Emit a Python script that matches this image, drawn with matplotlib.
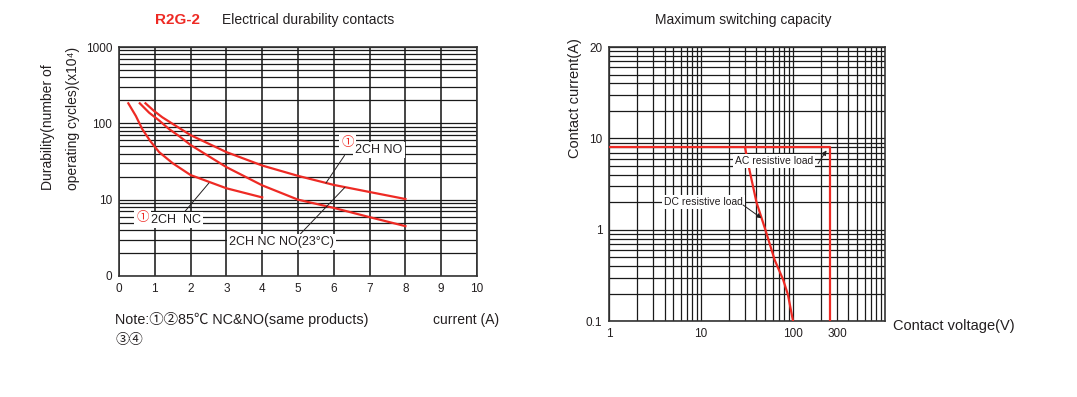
import matplotlib
matplotlib.use("Agg")
from matplotlib import pyplot as plt
from matplotlib.ticker import LogLocator, NullFormatter

# Data
#---------------------------------------------------------------------------
# left: electrical durability (x10^4 cycles) vs current (A)
nc85_x = [0.26, 0.47, 0.65, 0.88, 1.12, 1.5, 2, 3, 4]
nc85_y = [183, 125, 84, 58, 42, 30, 21, 14.1, 10.7]
nc_no23_x = [0.58, 0.84, 1.12, 1.4, 1.68, 2, 3, 4, 5, 6, 7, 8]
nc_no23_y = [183, 138, 109, 84, 68, 52, 26.7, 15.4, 10, 7.8, 5.9, 4.5]
no85_x = [0.74, 0.98, 1.21, 1.49, 1.68, 2, 3, 4, 5, 6, 7, 8]
no85_y = [183, 145, 120, 99, 87, 70, 42, 28, 20.5, 15.6, 12.6, 10.2]
left_xticks = list(range(0, 11))
left_yticks = [1, 10, 100, 1000]
left_ylabels = ["0", "10", "100", "1000"]

# right: maximum switching capacity
ac_v = [1, 250, 250]
ac_i = [8, 8, 0.1]
dc_v = [30, 32.4, 40, 50, 63, 78, 88, 100]
dc_i = [8, 5.3, 2, 1, 0.47, 0.285, 0.195, 0.1]
right_xticks = [1, 10, 100, 300]
right_yticks = [0.1, 1, 10, 100]
right_ylabels = ["0.1", "1", "10", "20"]
#---------------------------------------------------------------------------

plt.rcParams['font.family'] = ['Liberation Sans', 'Noto Sans CJK SC', 'DejaVu Sans']
TXT = '#231f20'
RED = '#ee2a24'
GRID = '#1a1a1a'

fig = plt.figure(figsize=(10.77, 3.97), dpi=100)

# Left chart
#---------------------------------------------------------------------------
ax1 = fig.add_axes([0.1105, 0.3048, 0.3324, 0.5768])
ax1.set_yscale('log')
ax1.set_xlim(0, 10)
ax1.set_ylim(1, 1000)
ax1.set_xticks(left_xticks)
ax1.set_xticklabels([str(t) for t in left_xticks])
ax1.set_yticks(left_yticks)
ax1.set_yticklabels(left_ylabels)
ax1.yaxis.set_minor_locator(LogLocator(base=10, subs=range(2, 10)))
ax1.yaxis.set_minor_formatter(NullFormatter())
ax1.tick_params(which='both', length=0, labelsize=8.5, colors=TXT, pad=5)
ax1.grid(True, axis='x', color='#444444', lw=1.4)
ax1.grid(True, axis='y', which='both', color=GRID, lw=0.9)
ax1.set_axisbelow(True)
for s in ax1.spines.values():
    s.set_color('#333333')
    s.set_linewidth(1.2)

ax1.plot(nc85_x, nc85_y, color=RED, lw=1.6, zorder=3)
ax1.plot(nc_no23_x, nc_no23_y, color=RED, lw=1.6, zorder=3)
ax1.plot(no85_x, no85_y, color=RED, lw=1.6, zorder=3)

box = dict(fc='white', ec='none', pad=1.5)
lead = dict(arrowstyle='-', color=TXT, lw=0.7, shrinkA=0, shrinkB=0)
ax1.annotate('', xy=(2.51, 16.5), xytext=(1.84, 7.0), arrowprops=lead)
ax1.annotate('', xy=(5.78, 16.5), xytext=(6.3, 38), arrowprops=lead)
ax1.annotate('', xy=(6.31, 14.5), xytext=(5.0, 3.3), arrowprops=lead)
ax1.text(6.38, 56, '\u2460', fontsize=9, color=RED, ha='center', va='center',
         bbox=box, zorder=6)
ax1.text(6.6, 45, '2CH NO', fontsize=9, color=TXT, ha='left', va='center',
         bbox=box, zorder=5)
ax1.text(0.66, 5.8, '\u2460', fontsize=9, color=RED, ha='center', va='center',
         bbox=box, zorder=6)
ax1.text(0.88, 5.45, '2CH  NC', fontsize=9, color=TXT, ha='left', va='center',
         bbox=box, zorder=5)
ax1.text(4.53, 2.8, '2CH NC NO(23\u00b0C)', fontsize=9, color=TXT, ha='center',
         va='center', bbox=box, zorder=5)

fig.text(0.1439, 0.9496, 'R2G-2', color=RED, fontsize=11, fontweight='bold',
         ha='left', va='center')
fig.text(0.2061, 0.9496, 'Electrical durability contacts', color=TXT, fontsize=10,
         ha='left', va='center')
fig.text(0.0445, 0.521, 'Durability(number of', rotation=90, fontsize=10,
         color=TXT, ha='center', va='bottom')
fig.text(0.0675, 0.521, 'operating cycles)(x10\u2074)', rotation=90, fontsize=10,
         color=TXT, ha='center', va='bottom')
fig.text(0.402, 0.194, 'current (A)', fontsize=10, color=TXT, ha='left', va='center')
fig.text(0.1068, 0.194, 'Note:\u2460\u246185\u2103 NC&NO(same products)', fontsize=10.4,
         color=TXT, ha='left', va='center')
fig.text(0.1068, 0.1436, '\u2462\u2463', fontsize=10, color=TXT, ha='left', va='center')

# Right chart
#---------------------------------------------------------------------------
ax2 = fig.add_axes([0.5657, 0.1907, 0.256, 0.6909])
ax2.set_xscale('log')
ax2.set_yscale('log')
ax2.set_xlim(1, 1000)
ax2.set_ylim(0.1, 100)
ax2.set_xticks(right_xticks)
ax2.set_xticklabels([str(t) for t in right_xticks])
ax2.set_yticks(right_yticks)
ax2.set_yticklabels(right_ylabels)
ax2.xaxis.set_minor_locator(LogLocator(base=10, subs=range(2, 10)))
ax2.yaxis.set_minor_locator(LogLocator(base=10, subs=range(2, 10)))
ax2.xaxis.set_minor_formatter(NullFormatter())
ax2.yaxis.set_minor_formatter(NullFormatter())
ax2.tick_params(which='both', length=0, labelsize=8.5, colors=TXT, pad=5)
ax2.grid(True, which='both', color=GRID, lw=0.9)
ax2.set_axisbelow(True)
for s in ax2.spines.values():
    s.set_color('#333333')
    s.set_linewidth(1.2)

ax2.plot(ac_v, ac_i, color=RED, lw=1.6, zorder=3)
ax2.plot(dc_v, dc_i, color=RED, lw=1.6, zorder=3)

arrow = dict(arrowstyle='-|>', color=TXT, lw=0.7, mutation_scale=7,
             shrinkA=0, shrinkB=0)
ax2.annotate('', xy=(231, 7.4), xytext=(187, 5.3), arrowprops=arrow, zorder=6)
ax2.annotate('', xy=(45.4, 1.34), xytext=(28.6, 1.87), arrowprops=arrow, zorder=6)
ax2.text(61.7, 5.69, 'AC resistive load', fontsize=7.5, color=TXT, ha='center',
         va='center', bbox=box, zorder=5)
ax2.text(10.5, 2.03, 'DC resistive load', fontsize=7.5, color=TXT, ha='center',
         va='center', bbox=box, zorder=5)

fig.text(0.6899, 0.9496, 'Maximum switching capacity', color=TXT, fontsize=10,
         ha='center', va='center')
fig.text(0.534, 0.753, 'Contact current(A)', rotation=90, fontsize=10.5, color=TXT,
         ha='center', va='center')
fig.text(0.829, 0.179, 'Contact voltage(V)', fontsize=10.5, color=TXT,
         ha='left', va='center')

plt.savefig('out.png', dpi=100)
#---------------------------------------------------------------------------
